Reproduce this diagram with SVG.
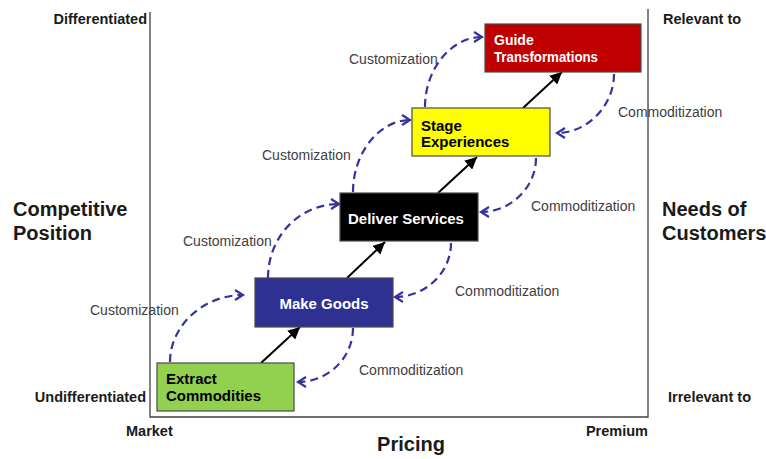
<svg xmlns="http://www.w3.org/2000/svg" width="766" height="459" viewBox="0 0 766 459">
  <style>
    .axis { font-family: "Liberation Sans", Arial, sans-serif; font-weight: bold; font-size: 14.5px; fill: #1a1a1a; }
    .big { font-family: "Liberation Sans", Arial, sans-serif; font-weight: bold; font-size: 20px; fill: #1a1a1a; }
    .flow { font-family: "Liberation Sans", Arial, sans-serif; font-size: 14px; fill: #404040; }
    .box { stroke: #4a4a4a; stroke-width: 1.2; }
    .lbl { font-family: "Liberation Sans", Arial, sans-serif; font-weight: bold; font-size: 15px; }
    .lbl.small { font-size: 14px; }
    .frame { stroke: #404040; stroke-width: 1.3; fill: none; }
    .step { stroke: #000; stroke-width: 2; fill: none; marker-end: url(#solid); }
    .loop { stroke: #34349a; stroke-width: 2.2; fill: none; stroke-dasharray: 8 5; marker-end: url(#open); }
  </style>
  <defs>
    <marker id="solid" markerUnits="userSpaceOnUse" markerWidth="14" markerHeight="12" refX="12" refY="6" orient="auto">
      <path d="M0,0 L12,6 L0,12 Z" fill="#000"/>
    </marker>
    <marker id="open" markerUnits="userSpaceOnUse" markerWidth="12" markerHeight="14" refX="9" refY="6" orient="auto">
      <path d="M1,1 L9,6 L1,11" fill="none" stroke="#34349a" stroke-width="2.2"/>
    </marker>
  </defs>

  <rect width="766" height="459" fill="#fff"/>

  <!-- chart frame -->
  <g id="frame">
    <polyline class="frame" points="150,12 150,417 648,417 648,9"/>
  </g>

  <!-- axis captions -->
  <g id="axes">
    <text class="axis" x="147" y="24" text-anchor="end">Differentiated</text>
    <text class="axis" x="146" y="402" text-anchor="end">Undifferentiated</text>
    <text class="axis" x="663" y="24">Relevant to</text>
    <text class="axis" x="668" y="402">Irrelevant to</text>
    <text class="axis" x="126" y="436">Market</text>
    <text class="axis" x="648" y="436" text-anchor="end">Premium</text>
    <text class="big" x="411" y="451" text-anchor="middle">Pricing</text>
    <text class="big" x="13" y="216">Competitive</text>
    <text class="big" x="13" y="240">Position</text>
    <text class="big" x="662" y="216">Needs of</text>
    <text class="big" x="662" y="240">Customers</text>
  </g>

  <!-- connectors -->
  <g id="connectors">
    <line class="step" x1="261" y1="363" x2="300" y2="327"/>
    <line class="step" x1="347" y1="278" x2="385" y2="242"/>
    <line class="step" x1="438" y1="193" x2="477" y2="157"/>
    <line class="step" x1="523" y1="108" x2="562" y2="72"/>

    <path class="loop" d="M170,362 C170,326 203,295 243,295"/>
    <path class="loop" d="M268,278 C268,236 300,204 339,204"/>
    <path class="loop" d="M353,192 C353,152 380,120 410,120"/>
    <path class="loop" d="M425,107 C425,68 452,37 482,37"/>

    <path class="loop" d="M353,328 C353,358 328,382 298,382"/>
    <path class="loop" d="M451,243 C451,273 425,297 395,297"/>
    <path class="loop" d="M536,158 C536,188 510,212 481,212"/>
    <path class="loop" d="M614,74 C614,105 588,133 557,133"/>

    <text class="flow" x="90" y="315">Customization</text>
    <text class="flow" x="183" y="246">Customization</text>
    <text class="flow" x="262" y="160">Customization</text>
    <text class="flow" x="349" y="64">Customization</text>
    <text class="flow" x="359" y="375">Commoditization</text>
    <text class="flow" x="455" y="296">Commoditization</text>
    <text class="flow" x="531" y="211">Commoditization</text>
    <text class="flow" x="618" y="117">Commoditization</text>
  </g>

  <!-- economic offerings -->
  <g id="extract-commodities">
    <rect class="box" x="157" y="363" width="137" height="48" fill="#92d050"/>
    <text class="lbl" x="166" y="384" fill="#000">Extract</text>
    <text class="lbl" x="166" y="401" fill="#000">Commodities</text>
  </g>
  <g id="make-goods">
    <rect class="box" x="255" y="278" width="138" height="49" fill="#2e3192"/>
    <text class="lbl" x="324" y="309" fill="#fff" text-anchor="middle">Make Goods</text>
  </g>
  <g id="deliver-services">
    <rect class="box" x="340" y="193" width="138" height="48" fill="#000"/>
    <text class="lbl" x="406" y="224" fill="#fff" text-anchor="middle">Deliver Services</text>
  </g>
  <g id="stage-experiences">
    <rect class="box" x="412" y="108" width="138" height="48" fill="#ffff00"/>
    <text class="lbl" x="421" y="131" fill="#000">Stage</text>
    <text class="lbl" x="421" y="147" fill="#000">Experiences</text>
  </g>
  <g id="guide-transformations">
    <rect class="box" x="485" y="24" width="156" height="48" fill="#c00000"/>
    <text class="lbl small" x="494" y="45" fill="#fff">Guide</text>
    <text class="lbl small" x="494" y="62" fill="#fff" textLength="104" lengthAdjust="spacingAndGlyphs">Transformations</text>
  </g>
</svg>
